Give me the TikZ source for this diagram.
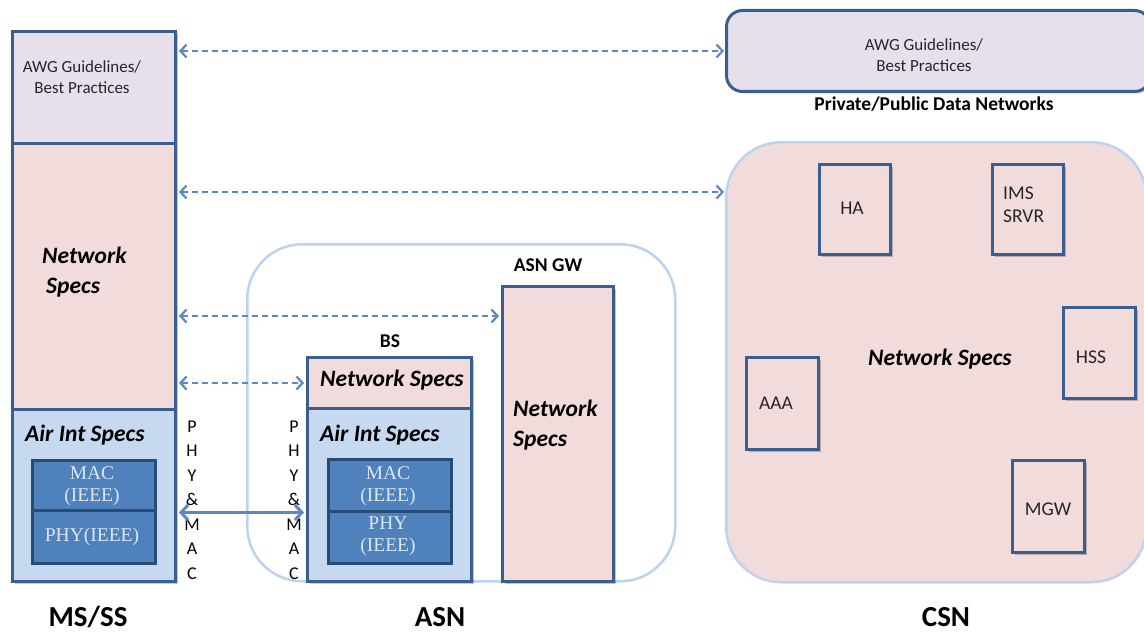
\documentclass[tikz,border=0pt]{standalone}
\usepackage{fontspec}
\setmainfont{Carlito}
\newfontfamily\serifmac{Liberation Serif}
\usetikzlibrary{arrows.meta,shadows}
\definecolor{darkb}{HTML}{3A5F8E}
\definecolor{lav}{HTML}{E6E0EC}
\definecolor{pinkf}{HTML}{F2DCDB}
\definecolor{lblue}{HTML}{C6D9F1}
\definecolor{macf}{HTML}{4F81BD}
\definecolor{macb}{HTML}{2A4B73}
\definecolor{mactext}{HTML}{DCE6F2}
\definecolor{regb}{HTML}{BCD2EE}
\definecolor{arr}{HTML}{5B87C2}
\tikzset{
  box/.style={draw=darkb, line width=3pt, inner sep=0pt, anchor=north west,
    drop shadow={shadow xshift=2pt, shadow yshift=-2pt, opacity=0.22, fill=black}},
  macbox/.style={draw=macb, line width=2.5pt, fill=macf, inner sep=0pt, anchor=north west},
  region/.style={draw=regb, line width=2.5pt, inner sep=0pt, anchor=north west, rounded corners=55pt},
  dasharrow/.style={draw=arr, line width=2.4pt, dash pattern=on 6.5pt off 3.5pt,
    {Straight Barb[length=6pt,width=13pt,line width=2.2pt]}-{Straight Barb[length=6pt,width=13pt,line width=2.2pt]}},
  solidarrow/.style={draw=arr, line width=3pt,
    {Straight Barb[length=7pt,width=15pt,line width=3pt]}-{Straight Barb[length=7pt,width=15pt,line width=3pt]}},
  bi/.style={font=\fontsize{23.5}{30}\selectfont\bfseries\itshape, inner sep=0pt},
  reg/.style={font=\fontsize{17}{20.5}\selectfont, inner sep=0pt, text=black!85},
  regl/.style={font=\fontsize{19.5}{23}\selectfont, inner sep=0pt, text=black!85},
  mac/.style={font=\serifmac\fontsize{19.5}{22.5}\selectfont, text=mactext, inner sep=0pt, align=center},
  big/.style={font=\fontsize{29}{31}\selectfont\bfseries, inner sep=0pt, anchor=base},
  lbl/.style={font=\fontsize{19.5}{22}\selectfont\bfseries, inner sep=0pt},
  letters/.style={font=\fontsize{18}{24.5}\selectfont, inner sep=0pt, align=center}
}
\begin{document}
\begin{tikzpicture}[x=1pt,y=-1pt]
\useasboundingbox (0,0) rectangle (1144,634);
% regions
\node[region, fill=white, minimum width=428pt, minimum height=337pt] (asn) at (246,243) {};
\node[region, fill=pinkf, minimum width=420pt, minimum height=440pt] (csn) at (725,141) {};
% top AWG (CSN side)
\node[box, fill=lav, rounded corners=16pt, minimum width=424pt, minimum height=81pt] (topawg) at (725,9) {};
\node[reg, align=center] (topawgt) at (924,55) {AWG Guidelines/\\Best Practices};
\node[lbl] (pdn) at (934,104) {Private/Public Data Networks};
% MS/SS stack
\node[box, fill=lav, minimum width=163pt, minimum height=112pt] (mssawg) at (11,30) {};
\node[box, fill=pinkf, minimum width=163pt, minimum height=266pt] (mssnet) at (11,142) {};
\node[box, fill=lblue, minimum width=163pt, minimum height=172pt] (mssair) at (11,408) {};
\node[macbox, minimum width=123pt, minimum height=50pt] (mssmac) at (31,459) {};
\node[macbox, minimum width=123pt, minimum height=53pt] (mssphy) at (31,509) {};
\node[reg, align=center] (mssawgt) at (82,77) {AWG Guidelines/\\Best Practices};
\node[bi, align=left, anchor=west] (mssnett) at (42,272) {Network\\\hspace*{4pt}Specs};
\node[bi, anchor=west] (mssairt) at (25,435) {Air Int Specs};
\node[mac] (mssmact) at (92,486) {MAC\\(IEEE)};
\node[mac] (mssphyt) at (92,537) {PHY(IEEE)};
% BS
\node[box, fill=pinkf, minimum width=164pt, minimum height=51pt] (bsnet) at (306,356) {};
\node[box, fill=lblue, minimum width=164pt, minimum height=173pt] (bsair) at (306,407) {};
\node[macbox, minimum width=123pt, minimum height=52pt] (bsmac) at (327,458) {};
\node[macbox, minimum width=123pt, minimum height=52pt] (bsphy) at (327,510) {};
\node[lbl] (bslbl) at (390,341) {BS};
\node[bi] (bsnett) at (392,380) {Network Specs};
\node[bi, anchor=west] (bsairt) at (320,435) {Air Int Specs};
\node[mac] (bsmact) at (388,486) {MAC\\(IEEE)};
\node[mac] (bsphyt) at (388,536) {PHY\\(IEEE)};
% ASN GW
\node[box, fill=pinkf, minimum width=111pt, minimum height=295pt] (gw) at (501,285) {};
\node[lbl] (gwlbl) at (548,265) {ASN GW};
\node[bi, align=left, anchor=west] (gwt) at (513,425) {Network\\Specs};
% PHY & MAC letters
\node[letters] (pm1) at (192,500) {P\\H\\Y\\\&\\M\\A\\C};
\node[letters] (pm2) at (294,500) {P\\H\\Y\\\&\\M\\A\\C};
% CSN contents
\node[box, fill=pinkf, minimum width=71pt, minimum height=90pt] (ha) at (818,163) {};
\node[box, fill=pinkf, minimum width=71pt, minimum height=90pt] (ims) at (991,163) {};
\node[box, fill=pinkf, minimum width=72pt, minimum height=91pt] (hss) at (1062,306) {};
\node[box, fill=pinkf, minimum width=72pt, minimum height=92pt] (aaa) at (745,356) {};
\node[box, fill=pinkf, minimum width=72pt, minimum height=92pt] (mgw) at (1011,459) {};
\node[regl] (hat) at (852,208) {HA};
\node[regl, align=left, anchor=west] (imst) at (1003,205) {IMS\\SRVR};
\node[regl] (hsst) at (1091,357) {HSS};
\node[regl] (aaat) at (776,403) {AAA};
\node[regl] (mgwt) at (1048,509) {MGW};
\node[bi] (csnt) at (940,359) {Network Specs};
% bottom labels
\node[big] (msslbl) at (88,626) {MS/SS};
\node[big] (asnlbl) at (440,626) {ASN};
\node[big] (csnlbl) at (946,626) {CSN};
% connectors
\coordinate (y2) at (0,192);
\coordinate (y3) at (0,316);
\draw[dasharrow, shorten <=2pt, shorten >=1pt] (mssawg.east |- topawg.west) -- (topawg.west);
\draw[dasharrow, shorten <=2pt, shorten >=1pt] (mssnet.east |- y2) -- (csn.west |- y2);
\draw[dasharrow, shorten <=2pt, shorten >=2pt] (mssnet.east |- y3) -- (gw.west |- y3);
\draw[dasharrow, shorten <=2pt, shorten >=2pt] (mssnet.east |- bsnet.west) -- (bsnet.west);
\draw[solidarrow, shorten <=2pt, shorten >=2pt] (mssair.east |- bsmac.south) -- (bsair.west |- bsmac.south);
\end{tikzpicture}
\end{document}
